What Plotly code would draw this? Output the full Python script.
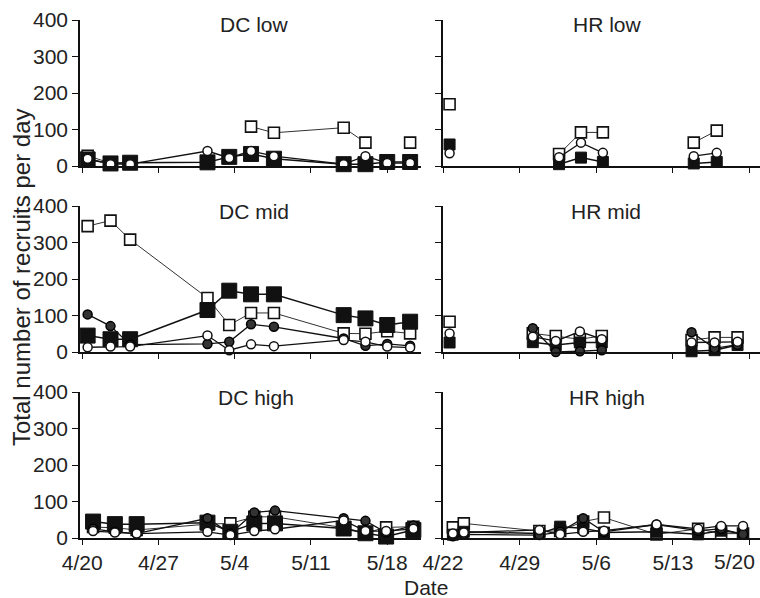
import plotly.graph_objects as go

# ---------------- data (days since first tick date; None = break in the line) ----------------
dc_tick_vals = [0, 7, 14, 21, 28]
dc_tick_labels = ["4/20", "4/27", "5/4", "5/11", "5/18"]
hr_tick_vals = [0, 7, 14, 21, 28]
hr_tick_labels = ["4/22", "4/29", "5/6", "5/13", "5/20"]
y_tick_vals = [0, 100, 200, 300, 400]

dc_days = [0.5, 2.6, 4.4, 11.5, 13.5, 15.5, 17.6, 24.0, 26.0, 28.0, 30.1]
dc_high_days = [1.0, 3.0, 5.0, 11.5, 13.6, 15.8, 17.7, 24.0, 26.0, 27.9, 30.4]
hr_low_days = [0.6, None, 10.6, 12.6, 14.6, None, 22.9, 25.0]
hr_mid_days = [0.6, None, 8.2, 10.3, 12.5, 14.5, None, 22.7, 24.8, 26.9]
hr_high_days = [0.9, 1.9, 8.8, 10.7, 12.8, 14.7, 19.5, 23.3, 25.4, 27.4]

# DC low (no filled circles visible in this panel)
dc_low_open_sq = [28, 8, 10, None, None, 108, 91, 105, 64, None, 64]
dc_low_filled_sq = [18, 7, 9, 10, 25, 33, 20, 5, 5, 11, 11]
dc_low_filled_circ = []
dc_low_open_circ = [20, 5, 5, 41, 22, 41, 27, 5, 27, 8, 8]
# DC mid
dc_mid_open_sq = [345, 360, 308, 148, 74, 107, 107, 51, 50, 57, 51]
dc_mid_filled_sq = [45, 35, 35, 115, 168, 158, 158, 101, 92, 74, 83]
dc_mid_filled_circ = [103, 71, 20, 22, 28, 76, 69, 37, 17, 22, 17]
dc_mid_open_circ = [13, 15, 15, 45, 5, 21, 16, 33, 28, 15, 12]
# DC high
dc_high_open_sq = [30, 28, 22, 38, 40, 58, 58, 28, 14, 29, 31]
dc_high_filled_sq = [45, 38, 38, 42, 17, 40, 40, 26, 13, 4, 22]
dc_high_filled_circ = [25, 17, 12, 54, 12, 70, 75, 54, 47, 15, 34]
dc_high_open_circ = [19, 15, 12, 17, 8, 19, 24, 48, 19, 19, 25]
# HR low (no filled circles visible in this panel)
hr_low_open_sq = [169, None, 33, 92, 92, None, 64, 97]
hr_low_filled_sq = [59, None, 5, 23, 11, None, 7, 11]
hr_low_filled_circ = []
hr_low_open_circ = [35, None, 24, 64, 36, None, 27, 36]
# HR mid
hr_mid_open_sq = [83, None, 51, 44, 35, 44, None, 33, 40, 40]
hr_mid_filled_sq = [26, None, 27, 19, 26, 26, None, 2, 5, 19]
hr_mid_filled_circ = [None, None, 65, 0, 2, 5, None, 54, 10, 20]
hr_mid_open_circ = [51, None, 42, 30, 56, 35, None, 26, 26, 28]
# HR high
hr_high_open_sq = [29, 40, 19, 19, 45, 56, 10, 25, 12, 12]
hr_high_filled_sq = [9, 17, 12, 31, 27, 15, 17, 10, 20, 12]
hr_high_filled_circ = [5, 10, 8, 17, 54, 17, 37, 20, 25, 10]
hr_high_open_circ = [12, 15, 22, 10, 17, 20, 37, 25, 33, 33]

panel_titles = ["DC low", "HR low", "DC mid", "HR mid", "DC high", "HR high"]
y_title = "Total number of recruits per day"
x_title = "Date"

panels = [
    (dc_days, dc_low_open_sq, dc_low_filled_sq, dc_low_filled_circ, dc_low_open_circ),
    (hr_low_days, hr_low_open_sq, hr_low_filled_sq, hr_low_filled_circ, hr_low_open_circ),
    (dc_days, dc_mid_open_sq, dc_mid_filled_sq, dc_mid_filled_circ, dc_mid_open_circ),
    (hr_mid_days, hr_mid_open_sq, hr_mid_filled_sq, hr_mid_filled_circ, hr_mid_open_circ),
    (dc_high_days, dc_high_open_sq, dc_high_filled_sq, dc_high_filled_circ, dc_high_open_circ),
    (hr_high_days, hr_high_open_sq, hr_high_filled_sq, hr_high_filled_circ, hr_high_open_circ),
]

# ---------------- layout geometry (pixels) ----------------
W, H = 760, 598
FONT = "Liberation Sans, Arial, Helvetica, sans-serif"
col_px = [(80, 421), (443, 760)]
row_px = [(20, 166), (206, 352), (392, 538)]
x_ranges = [[-0.2, 31.1], [0.0, 28.95]]


def px_x(x):
    return x / W


def px_y(y):
    return 1 - y / H


fig = go.Figure()

for i, (days, osq, fsq, fci, oci) in enumerate(panels):
    r, c = divmod(i, 2)
    n = i + 1
    xa = "x" if n == 1 else f"x{n}"
    ya = "y" if n == 1 else f"y{n}"
    fsq_size = 15 if c == 0 else 11
    common = dict(mode="lines+markers", xaxis=xa, yaxis=ya, cliponaxis=False,
                  hoverinfo="skip", showlegend=False, connectgaps=False)
    fig.add_trace(go.Scatter(x=days, y=osq, line=dict(color="#333", width=1),
                             marker=dict(symbol="square", size=11, color="white",
                                         line=dict(color="#111", width=1.6)), **common))
    fig.add_trace(go.Scatter(x=days, y=fsq, line=dict(color="#111", width=1.5),
                             marker=dict(symbol="square", size=fsq_size, color="#111",
                                         line=dict(color="#111", width=1)), **common))
    if fci:
        fig.add_trace(go.Scatter(x=days, y=fci, line=dict(color="#111", width=1.3),
                                 marker=dict(symbol="circle", size=9, color="#333",
                                             line=dict(color="#000", width=1.5)), **common))
    fig.add_trace(go.Scatter(x=days, y=oci, line=dict(color="#111", width=1.3),
                             marker=dict(symbol="circle", size=9, color="white",
                                         line=dict(color="#111", width=1.5)), **common))

    x0, x1 = col_px[c]
    y0, y1 = row_px[r]
    if c == 0:
        tickvals, ticktext = dc_tick_vals, list(dc_tick_labels)
    else:
        # the last label would run past the page edge; it is drawn as an annotation below
        tickvals, ticktext = hr_tick_vals, hr_tick_labels[:-1] + [""]
    xkey = "xaxis" if n == 1 else f"xaxis{n}"
    ykey = "yaxis" if n == 1 else f"yaxis{n}"
    fig.layout[xkey] = dict(
        domain=[px_x(x0), px_x(x1)], anchor=ya, range=x_ranges[c], automargin=False,
        showgrid=False, zeroline=False, showline=True, linecolor="#111", linewidth=1.5,
        ticks="outside", ticklen=5, tickwidth=1.3, tickcolor="#111",
        tickmode="array", tickvals=tickvals, ticktext=ticktext,
        showticklabels=(r == 2), tickfont=dict(family=FONT, size=21, color="#222"),
        fixedrange=True,
    )
    fig.layout[ykey] = dict(
        domain=[px_y(y1), px_y(y0)], anchor=xa, range=[0, 400], automargin=False,
        showgrid=False, zeroline=False, showline=True, linecolor="#111", linewidth=1.5,
        ticks="outside", ticklen=6, tickwidth=1.3, tickcolor="#111",
        tickmode="array", tickvals=y_tick_vals,
        showticklabels=(c == 0), tickfont=dict(family=FONT, size=21, color="#222"),
        fixedrange=True,
    )

title_pos = [(254, 25), (607, 25), (254, 211), (606, 211), (256, 397), (607, 397)]
annotations = []
for (tx, ty), t in zip(title_pos, panel_titles):
    annotations.append(dict(text=t, x=px_x(tx), y=px_y(ty), xref="paper", yref="paper",
                            xanchor="center", yanchor="middle", showarrow=False,
                            font=dict(family=FONT, size=21, color="#222")))
# last date label of the right column, pulled in from the page edge
annotations.append(dict(text=hr_tick_labels[-1], x=px_x(757), y=px_y(561),
                        xref="paper", yref="paper", xanchor="right", yanchor="middle",
                        showarrow=False, font=dict(family=FONT, size=21, color="#222")))
annotations.append(dict(text=y_title, x=px_x(21), y=px_y(277), xref="paper", yref="paper",
                        xanchor="center", yanchor="middle", textangle=-90, showarrow=False,
                        font=dict(family=FONT, size=24, color="#222")))
annotations.append(dict(text=x_title, x=px_x(426), y=px_y(587), xref="paper", yref="paper",
                        xanchor="center", yanchor="middle", showarrow=False,
                        font=dict(family=FONT, size=21, color="#222")))

fig.update_layout(
    width=W, height=H, margin=dict(l=0, r=0, t=0, b=0, autoexpand=False),
    paper_bgcolor="white", plot_bgcolor="white",
    annotations=annotations, showlegend=False,
)

# remove the browser's default 8px page margin so the figure fills the window exactly
fig.write_html("out.html",
               config={"displayModeBar": False},
               post_script="document.body.style.margin='0px';"
                           "document.body.style.overflow='hidden';")
